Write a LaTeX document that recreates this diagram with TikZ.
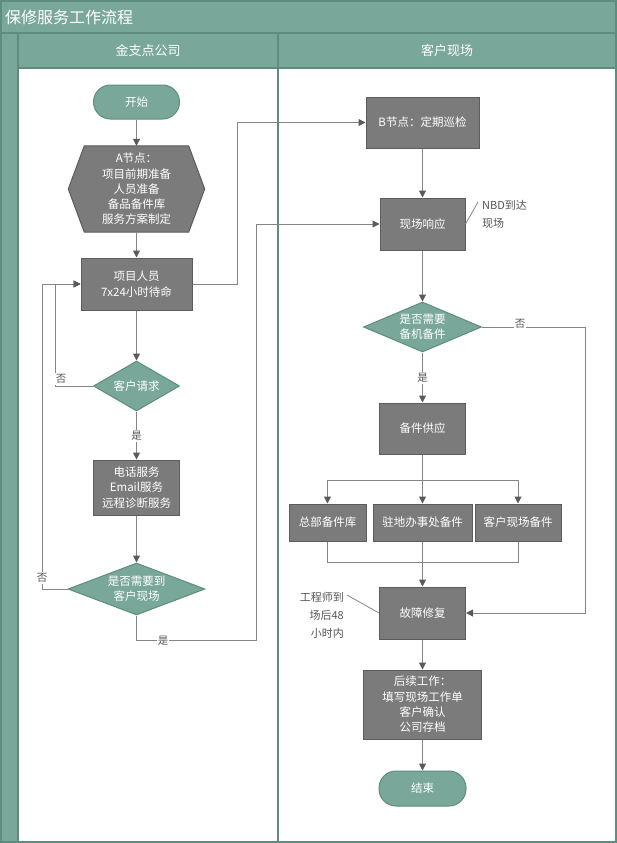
\documentclass[tikz,border=0pt]{standalone}
\usepackage{fontspec}
\setmainfont{Noto Sans CJK SC}
\usetikzlibrary{arrows.meta,shapes.geometric,calc}
\definecolor{tealf}{HTML}{79A89B}
\definecolor{teald}{HTML}{5E8D80}
\definecolor{boxf}{HTML}{7B7B7B}
\definecolor{boxd}{HTML}{5C5C5C}
\definecolor{linec}{HTML}{858585}
\definecolor{tipc}{HTML}{5A5A5A}
\definecolor{notec}{HTML}{555555}
\begin{document}
\begin{tikzpicture}[x=1pt,y=-1pt,
  boxfont/.style={font=\fontsize{11.5}{15.3}\selectfont},
  proc/.style={rectangle, draw=boxd, fill=boxf, line width=1pt, text=white, align=center, inner sep=0pt, boxfont},
  term/.style={rectangle, rounded corners=17pt, draw=teald, fill=tealf, line width=1pt, text=white, align=center, inner sep=0pt, boxfont},
  dec/.style={diamond, draw=teald, fill=tealf, line width=1pt, text=white, align=center, inner sep=0pt, boxfont},
  hexbox/.style={draw=boxd, fill=boxf, line width=1pt},
  conn/.style={draw=linec, line width=1pt},
  arr/.style={conn, -{Triangle[length=7pt,width=7pt,color=tipc]}},
  lbl/.style={fill=white, text=notec, inner sep=1pt, font=\fontsize{10.5}{12}\selectfont},
  note/.style={text=notec, inner sep=0pt, font=\fontsize{11}{18}\selectfont},
  hdr/.style={text=white, inner sep=0pt, font=\fontsize{13}{15}\selectfont},
  lane/.style={draw=teald, line width=1.6pt}
]
\useasboundingbox (0,0) rectangle (617,843);
% background and frame
\fill[white] (0,0) rectangle (617,843);
\fill[tealf] (0,0) rectangle (617,33);
\fill[tealf] (0,33) rectangle (18,843);
\fill[tealf] (18,33) rectangle (617,68);
\draw[lane] (0,33) -- (617,33);
\draw[lane] (18,33) -- (18,843);
\draw[lane] (278,33) -- (278,843);
\draw[lane] (18,68) -- (617,68);
\draw[lane] (0.8,0.8) rectangle (616.2,842.2);
\node[text=white, anchor=west, inner sep=0pt, font=\fontsize{16}{18}\selectfont] (title) at (5,17) {保修服务工作流程};
\node[hdr] (h1) at (148,51) {金支点公司};
\node[hdr] (h2) at (447,51) {客户现场};

% left lane
\node[term, minimum width=86pt, minimum height=34pt] (start) at (136.5,102) {开始};
\node[rectangle, align=center, inner sep=0pt, text=white, boxfont, minimum width=136pt, minimum height=86pt] (A) at (136.5,189) {};
\draw[hexbox] (A.west) -- ([xshift=16pt]A.north west) -- ([xshift=-16pt]A.north east) -- (A.east) -- ([xshift=-16pt]A.south east) -- ([xshift=16pt]A.south west) -- cycle;
\node[align=center, inner sep=0pt, text=white, boxfont] (Atext) at (A.center) {A节点：\\项目前期准备\\人员准备\\备品备件库\\服务方案制定};
\node[proc, minimum width=111pt, minimum height=52pt] (P) at (136.5,284) {项目人员\\7x24小时待命};
\node[dec, aspect=1.72, minimum width=86pt, minimum height=50pt] (Q) at (136.5,386) {客户请求};
\node[proc, minimum width=86pt, minimum height=55pt] (T) at (136.5,487.5) {电话服务\\Email服务\\远程诊断服务};
\node[dec, aspect=2.63, minimum width=137pt, minimum height=52pt] (D) at (136.5,589) {是否需要到\\客户现场};

% right lane
\node[proc, minimum width=113pt, minimum height=51pt] (B) at (422.5,122.5) {B节点：定期巡检};
\node[proc, minimum width=85pt, minimum height=52pt] (R) at (422.5,224) {现场响应};
\node[dec, aspect=2.36, minimum width=118pt, minimum height=50pt] (S) at (422.5,327) {是否需要\\备机备件};
\node[proc, minimum width=86pt, minimum height=51pt] (G) at (422.5,428.5) {备件供应};
\node[proc, minimum width=77pt, minimum height=37pt] (H1) at (327.5,522.5) {总部备件库};
\node[proc, minimum width=99pt, minimum height=37pt] (H2) at (422.5,522.5) {驻地办事处备件};
\node[proc, minimum width=86pt, minimum height=37pt] (H3) at (518,522.5) {客户现场备件};
\node[proc, minimum width=86pt, minimum height=52pt] (F) at (422.5,613) {故障修复};
\node[proc, minimum width=118pt, minimum height=69pt] (K) at (422.5,704.5) {后续工作：\\填写现场工作单\\客户确认\\公司存档};
\node[term, minimum width=87pt, minimum height=35pt] (E) at (422.5,788.5) {结束};

% annotations
\node[note, anchor=west, align=left] (n1) at (482,214) {NBD到达\\现场};
\coordinate (n1tip) at (478,202);
\draw[conn, line width=0.8pt] (R.east) -- (n1tip);
\node[note, anchor=east, align=right] (n2) at (344,615) {工程师到\\场后48\\小时内};
\coordinate (n2tip) at (347,595);
\draw[conn, line width=0.8pt] (n2tip) -- (F.west);

% connectors left
\draw[arr] (start.south) -- (A.north);
\draw[arr] (A.south) -- (P.north);
\draw[arr] (P.east) -- ++(45,0) |- (B.west);
\draw[arr] (P.south) -- (Q.north);
\draw[arr] (Q.west) -- ++(-38,0) |- (P.west);
\draw[arr] (Q.south) -- (T.north);
\draw[arr] (T.south) -- (D.north);
\draw[arr] (D.west) -- ++(-25,0) |- (P.west);
\draw[arr] (D.south) -- ++(0,25) -- ++(119.5,0) |- (R.west);
\node[lbl] (qno) at (61,379) {否};
\node[lbl] (qyes) at (136.5,436) {是};
\node[lbl] (dno) at (42,578) {否};
\node[lbl] (dyes) at (163,641) {是};

% connectors right
\draw[arr] (B.south) -- (R.north);
\draw[arr] (R.south) -- (S.north);
\draw[arr] (S.south) -- (G.north);
\draw[arr] (S.east) -- ++(103,0) |- (F.east);
\node[lbl] (syes) at (422.5,378) {是};
\node[lbl] (sno) at (520,324) {否};
\draw[conn] (G.south) -- ++(0,25.5) coordinate (g1);
\draw[arr] (g1) -| (H1.north);
\draw[arr] (g1) -| (H3.north);
\draw[arr] (g1) -- (H2.north);
\coordinate (j1) at (422.5,562);
\draw[conn] (H1.south) |- (j1);
\draw[conn] (H3.south) |- (j1);
\draw[arr] (H2.south) -- (F.north);
\draw[arr] (F.south) -- (K.north);
\draw[arr] (K.south) -- (E.north);
\end{tikzpicture}
\end{document}
